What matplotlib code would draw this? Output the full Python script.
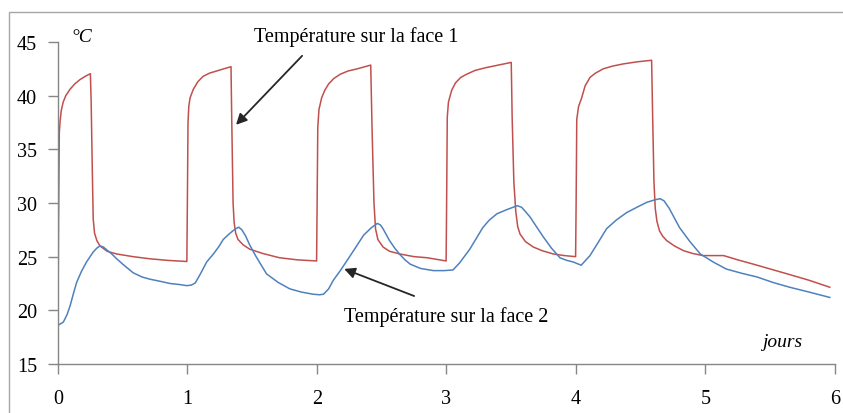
"""
Temperature on the two faces of a wall over six days (red: face 1, blue: face 2).
"""

import matplotlib
matplotlib.use("Agg")
import matplotlib.pyplot as plt
from matplotlib.patches import Rectangle

# ------------------------------------------------------------------
# face 1 (red)
face1_t = [0.000, 0.004, 0.010, 0.016, 0.025, 0.040, 0.060, 0.093, 0.130, 0.170, 0.210, 0.250,
           0.256, 0.265, 0.272, 0.282, 0.300, 0.324, 0.380, 0.453, 0.580, 0.710, 0.850, 0.995,
           0.999, 1.004, 1.010, 1.020, 1.045, 1.080, 1.120, 1.170, 1.225, 1.280, 1.336,
           1.342, 1.352, 1.360, 1.372, 1.390, 1.430, 1.480, 1.580, 1.710, 1.850, 1.997,
           2.001, 2.006, 2.015, 2.036, 2.060, 2.090, 2.130, 2.180, 2.240, 2.310, 2.415,
           2.425, 2.440, 2.452, 2.470, 2.510, 2.560, 2.640, 2.750, 2.850, 2.997,
           3.001, 3.006, 3.015, 3.040, 3.070, 3.110, 3.156, 3.220, 3.300, 3.400, 3.500,
           3.507, 3.520, 3.535, 3.550, 3.568, 3.610, 3.670, 3.740, 3.825, 3.910, 3.997,
           4.001, 4.006, 4.020, 4.044, 4.070, 4.108, 4.150, 4.210, 4.280, 4.365, 4.470, 4.584,
           4.592, 4.602, 4.612, 4.625, 4.645, 4.670, 4.700, 4.760, 4.830, 4.900, 4.980,
           5.140, 5.250, 5.370, 5.500, 5.630, 5.800, 5.960]
face1_T = [18.4, 28.0, 36.5, 37.6, 38.6, 39.4, 40.0, 40.6, 41.1, 41.5, 41.8, 42.05,
           39.5, 33.0, 28.5, 27.2, 26.5, 26.0, 25.5, 25.25, 25.0, 24.8, 24.65, 24.55,
           30.0, 37.5, 39.0, 39.8, 40.6, 41.3, 41.8, 42.1, 42.3, 42.5, 42.7,
           37.5, 30.0, 28.2, 27.2, 26.6, 26.1, 25.7, 25.3, 24.9, 24.7, 24.6,
           30.0, 37.0, 38.7, 39.8, 40.5, 41.1, 41.6, 42.0, 42.3, 42.5, 42.85,
           37.0, 30.0, 27.6, 26.6, 25.9, 25.5, 25.25, 25.0, 24.9, 24.6,
           30.0, 38.0, 39.4, 40.5, 41.2, 41.7, 42.0, 42.35, 42.6, 42.85, 43.1,
           38.0, 32.0, 29.2, 27.8, 27.1, 26.4, 25.9, 25.55, 25.25, 25.1, 25.0,
           30.0, 37.8, 39.0, 39.8, 40.9, 41.7, 42.1, 42.5, 42.75, 42.96, 43.15, 43.3,
           38.0, 32.0, 29.5, 28.3, 27.4, 26.9, 26.5, 26.0, 25.56, 25.3, 25.1,
           25.1, 24.7, 24.3, 23.85, 23.4, 22.8, 22.15]

# face 2 (blue)
face2_t = [0.000, 0.041, 0.070, 0.093, 0.120, 0.144, 0.180, 0.220, 0.270, 0.300, 0.324, 0.350,
           0.380, 0.420, 0.453, 0.500, 0.580, 0.650, 0.710, 0.790, 0.865, 0.940, 0.994, 1.030,
           1.060, 1.100, 1.148, 1.200, 1.240, 1.276, 1.320, 1.360, 1.395, 1.420, 1.450, 1.480,
           1.530, 1.610, 1.700, 1.790, 1.880, 1.970, 2.020, 2.050, 2.090, 2.126, 2.180, 2.230,
           2.290, 2.360, 2.420, 2.466, 2.490, 2.510, 2.560, 2.600, 2.640, 2.680, 2.720, 2.800,
           2.900, 2.980, 3.050, 3.100, 3.180, 3.230, 3.280, 3.330, 3.390, 3.470, 3.547, 3.580,
           3.610, 3.645, 3.700, 3.750, 3.810, 3.876, 3.930, 3.980, 4.040, 4.070, 4.108, 4.170,
           4.236, 4.310, 4.390, 4.470, 4.546, 4.610, 4.650, 4.680, 4.720, 4.800, 4.880, 4.960,
           5.060, 5.160, 5.280, 5.400, 5.520, 5.650, 5.800, 5.960]
face2_T = [18.6, 18.9, 19.6, 20.4, 21.6, 22.6, 23.6, 24.5, 25.4, 25.8, 26.0, 25.9,
           25.6, 25.2, 24.8, 24.3, 23.5, 23.1, 22.9, 22.7, 22.5, 22.4, 22.3, 22.35,
           22.55, 23.4, 24.5, 25.25, 25.9, 26.6, 27.1, 27.5, 27.75, 27.5, 26.9, 26.1,
           25.0, 23.4, 22.6, 22.0, 21.7, 21.5, 21.45, 21.5, 22.0, 22.8, 23.7, 24.6,
           25.7, 27.0, 27.7, 28.1, 27.95, 27.6, 26.5, 25.8, 25.2, 24.7, 24.3, 23.9,
           23.7, 23.7, 23.76, 24.4, 25.7, 26.7, 27.7, 28.4, 29.0, 29.4, 29.75, 29.6,
           29.2, 28.7, 27.7, 26.8, 25.8, 24.9, 24.65, 24.5, 24.2, 24.6, 25.1, 26.3,
           27.6, 28.4, 29.1, 29.6, 30.06, 30.3, 30.4, 30.2, 29.5, 27.7, 26.4, 25.25,
           24.5, 23.85, 23.45, 23.1, 22.6, 22.15, 21.7, 21.2]

X_TICKS = [0, 1, 2, 3, 4, 5, 6]
Y_TICKS = [15, 20, 25, 30, 35, 40, 45]

RED  = "#C0504D"
BLUE = "#4F81BD"
GREY = "#868686"
SERIF = "Liberation Serif"

# ------------------------------------------------------------------
fig = plt.figure(figsize=(8.43, 4.14), dpi=100)
ax = fig.add_axes([0.0688, 0.1184, 0.9217, 0.7777])

# outer frame (only left/top visible in the original)
fig.patches.append(Rectangle((9 / 843, -0.05), 1.2, 1 - 13 / 414 + 0.05,
                             transform=fig.transFigure, fill=False,
                             edgecolor="#A6A6A6", lw=1.0))

ax.plot(face1_t, face1_T, color=RED, lw=1.1)
ax.plot(face2_t, face2_T, color=BLUE, lw=1.1)

ax.set_xlim(0, 6)
ax.set_ylim(15, 45)
ax.set_xticks(X_TICKS)
ax.set_yticks(Y_TICKS)
for s in ("top", "right"):
    ax.spines[s].set_visible(False)
for s in ("left", "bottom"):
    ax.spines[s].set_color(GREY)
    ax.spines[s].set_linewidth(1.0)
ax.tick_params(axis="both", color=GREY, length=7, width=1.0,
               labelsize=14.5)
ax.tick_params(axis="y", pad=8)
ax.tick_params(axis="x", pad=11)
for lab in ax.get_xticklabels() + ax.get_yticklabels():
    lab.set_fontfamily(SERIF)

# unit labels
ax.text(0.185, 45.5, "°C", fontsize=14, fontstyle="italic", family=SERIF,
        ha="center", va="center", clip_on=False)
ax.text(5.59, 17.05, "jours", fontsize=14, fontstyle="italic", family=SERIF,
        ha="center", va="center")

# annotations
ax.text(2.305, 45.6, "Température sur la face 1", fontsize=14.5, family=SERIF,
        ha="center", va="center", clip_on=False)
ax.annotate("", xy=(1.36, 37.1), xytext=(1.90, 43.9),
            arrowprops=dict(arrowstyle="-|>", color="#262626", lw=1.3,
                            mutation_scale=16))
ax.text(2.996, 19.45, "Température sur la face 2", fontsize=14.5, family=SERIF,
        ha="center", va="center")
ax.annotate("", xy=(2.19, 23.95), xytext=(2.77, 21.24),
            arrowprops=dict(arrowstyle="-|>", color="#262626", lw=1.3,
                            mutation_scale=16))

fig.savefig("out.png", dpi=100)
